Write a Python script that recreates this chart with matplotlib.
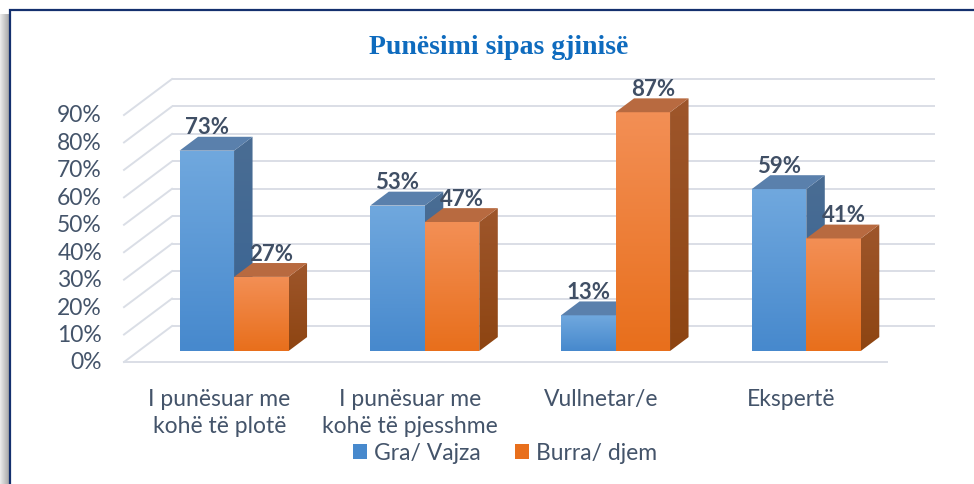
import numpy as np
import matplotlib
matplotlib.use("Agg")
import matplotlib.pyplot as plt
from matplotlib.patches import Polygon, Patch, Rectangle
from matplotlib.colors import LinearSegmentedColormap

# ---------------------------------------------------------------
# Data
# ---------------------------------------------------------------
categories = ["I punësuar me\nkohë të plotë", "I punësuar me\nkohë të pjesshme",
              "Vullnetar/e", "Ekspertë"]
women = [73, 53, 13, 59]
men = [27, 47, 87, 41]
series_names = ["Gra/ Vajza", "Burra/ djem"]
y_ticks = [0, 10, 20, 30, 40, 50, 60, 70, 80, 90]
title = "Punësimi sipas gjinisë"

# ---------------------------------------------------------------
# Layout (pixels of the 974x485 canvas)
# ---------------------------------------------------------------
W, H = 974, 485
front_left_px, front_right_px = 124, 887
zero_px, ninety_px = 363, 116
depth_dx_px, depth_dy_px = 48, 36

ux = (front_right_px - front_left_px) / len(categories)   # px per category
uy = (zero_px - ninety_px) / 90.0                         # px per percent
DX = depth_dx_px / ux
DY = depth_dy_px / uy
d0, d1 = 11 / 36, 11 / 36 + 18.5 / 48                      # bar depth range
bar_w = 54.5 / ux

text_col = "#44546A"
grid_col = "#DADEE6"

# colors: (front top, front bottom, side top, side bottom, top face)
blue = ("#70A8DE", "#4789CD", "#4A6D94", "#386393", "#5A80AC")
orange = ("#F38F55", "#E86F1C", "#9E562B", "#8E4512", "#B86A40")

plt.rcParams["font.family"] = ["Lato", "DejaVu Sans"]

fig = plt.figure(figsize=(W / 100, H / 100), dpi=100)
ax = fig.add_axes([0, 0, 1, 1])
ax.set_xlim(-front_left_px / ux, (W - front_left_px) / ux)
ax.set_ylim(-(H - zero_px) / uy, zero_px / uy)
ax.axis("off")


def proj(x, y, d):
    return (x + d * DX, y + d * DY)


def fill_gradient(verts, c_top, c_bottom, z):
    poly = Polygon(verts, closed=True, facecolor="none", edgecolor="none", zorder=z)
    ax.add_patch(poly)
    xs = [v[0] for v in verts]
    ys = [v[1] for v in verts]
    cmap = LinearSegmentedColormap.from_list("g", [c_top, c_bottom])
    grad = np.linspace(0, 1, 64).reshape(-1, 1)
    im = ax.imshow(grad, cmap=cmap, extent=(min(xs), max(xs), min(ys), max(ys)),
                   origin="upper", aspect="auto", zorder=z, interpolation="bilinear")
    im.set_clip_path(poly)


def draw_bar(x0, h, cols, z):
    x1 = x0 + bar_w
    front = [proj(x0, 0, d0), proj(x1, 0, d0), proj(x1, h, d0), proj(x0, h, d0)]
    side = [proj(x1, 0, d0), proj(x1, 0, d1), proj(x1, h, d1), proj(x1, h, d0)]
    top = [proj(x0, h, d0), proj(x1, h, d0), proj(x1, h, d1), proj(x0, h, d1)]
    fill_gradient(side, cols[2], cols[3], z)
    fill_gradient(front, cols[0], cols[1], z + 0.1)
    ax.add_patch(Polygon(top, closed=True, facecolor=cols[4], edgecolor="none", zorder=z + 0.2))


# ---------------------------------------------------------------
# Walls and gridlines
# ---------------------------------------------------------------
n = len(categories)
for t in y_ticks:
    bx0, by = proj(0, t, 1)
    bx1, _ = proj(n, t, 1)
    ax.plot([bx0, bx1], [by, by], color=grid_col, lw=1.4, zorder=1, solid_capstyle="butt")
    fx, fy = proj(0, t, 0)
    ax.plot([fx, bx0], [fy, by], color=grid_col, lw=1.4, zorder=1)
    ax.text(fx - 22 / ux, fy, f"{t}%", ha="right", va="center", fontsize=16.5, color=text_col)

ax.plot([0, n], [0, 0], color=grid_col, lw=1.4, zorder=1)

# ---------------------------------------------------------------
# Bars and labels
# ---------------------------------------------------------------
z = 5
for i in range(n):
    center = i + 0.5
    for j, (vals, cols) in enumerate([(women, blue), (men, orange)]):
        x0 = center - bar_w + j * bar_w
        draw_bar(x0, vals[i], cols, z)
        z += 1
        _, ly = proj(x0 + bar_w / 2, vals[i], d1)
        lx = x0 + bar_w / 2 + d0 * DX + j * 10 / ux
        ax.text(lx, ly + 10 / uy, f"{vals[i]}%", ha="center", va="center",
                fontsize=16, fontweight="bold", color="#404F65", zorder=50)
    ax.text(center, -(389 - zero_px) / uy, categories[i], ha="center", va="top",
            fontsize=16.5, color=text_col, linespacing=1.38)

# ---------------------------------------------------------------
# Title, legend, frame
# ---------------------------------------------------------------
fig.text(498.5 / W, 1 - 48 / H, title, ha="center", va="center",
         fontsize=20, fontweight="bold", color="#0E6BBE", family="Liberation Serif")

handles = [Patch(facecolor=blue[1], edgecolor="none"), Patch(facecolor=orange[1], edgecolor="none")]
fig.legend(handles, series_names, loc="center", bbox_to_anchor=(505 / W, 1 - 454 / H),
           ncol=2, frameon=False, fontsize=16.5, labelcolor=text_col,
           handlelength=0.6, handleheight=0.6, handletextpad=0.3, columnspacing=1.5)

# frame border with a soft shadow on the left
shadow = fig.add_axes([0, 0, 9 / W, (H - 15) / H])
shadow.imshow(np.linspace(0, 1, 32).reshape(1, -1), cmap=LinearSegmentedColormap.from_list(
    "s", ["#ECECEC", "#A9A9A9"]), aspect="auto")
shadow.axis("off")
fig.add_artist(Rectangle((10 / W, -0.1), 1.2, 1 - 11 / H + 0.1, transform=fig.transFigure,
                         facecolor="none", edgecolor="#14306E", lw=1.6))

fig.savefig("out.png", dpi=100)
